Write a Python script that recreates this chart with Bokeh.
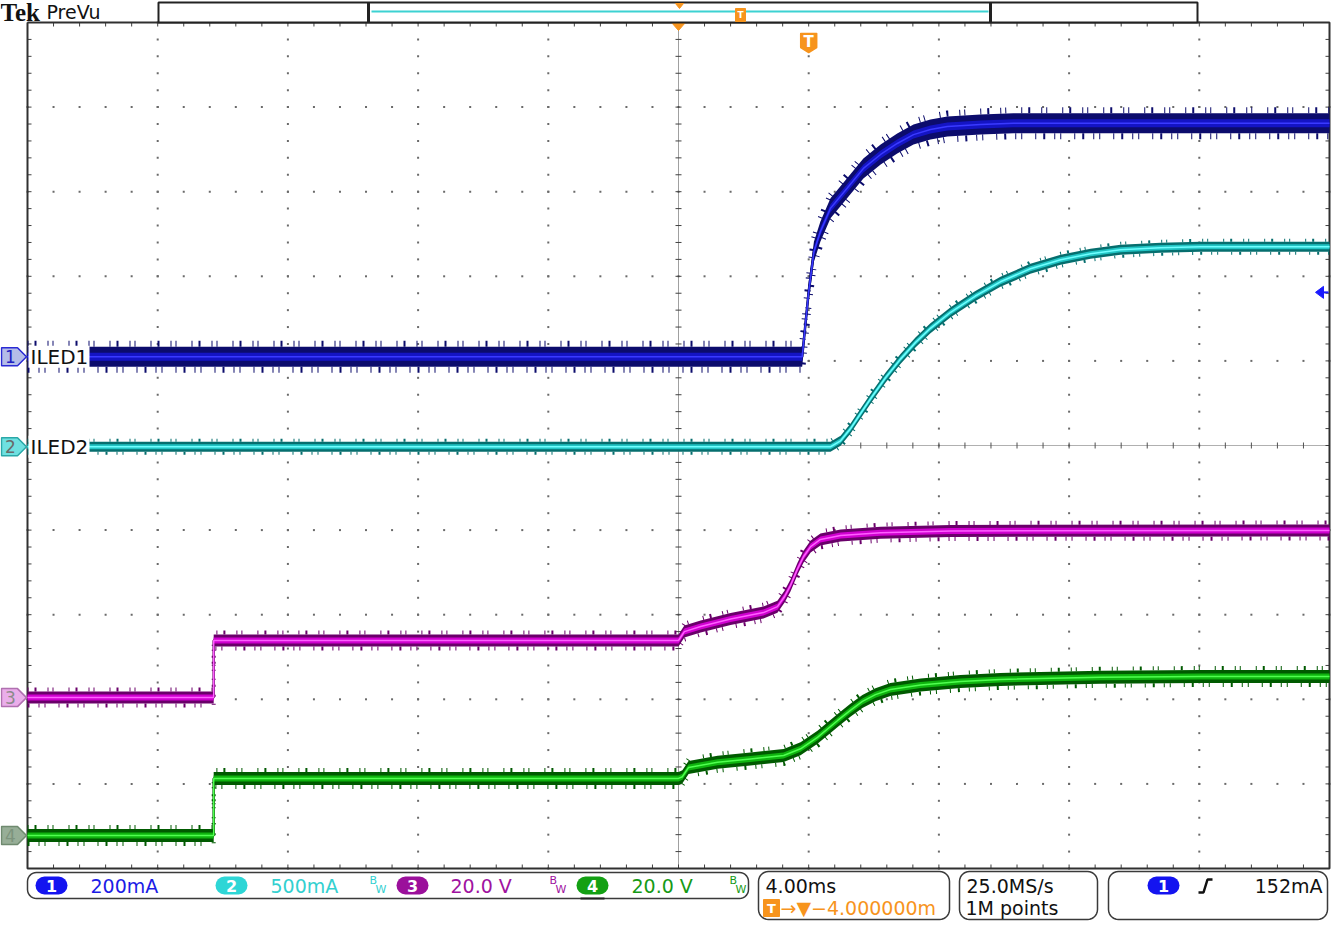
import numpy as np
from bokeh.plotting import figure
from bokeh.models import Range1d, Label
from bokeh.embed import file_html
from bokeh.resources import INLINE

# ---------------- data ----------------
ch1_t_ms = [-24.0, -0.20, 0.00, 0.16, 0.36, 0.67, 1.18, 1.68, 2.21, 2.72, 3.22, 3.74, 4.26, 5.28, 6.29, 16.0]
ch1_ma = [0, 0, 154, 248, 296, 351, 398, 445, 478, 504, 525, 537, 544, 549, 552, 552]

ch2_t_ms = [-24.0, 0.67, 0.98, 1.28, 1.59, 1.90, 2.36, 2.82, 3.28, 3.74, 4.36, 5.12, 5.89, 6.81, 7.74, 8.66, 9.58, 10.81, 12.04, 16.0]
ch2_ma = [0, 0, 35, 106, 195, 284, 408, 518, 616, 700, 795, 891, 975, 1052, 1105, 1141, 1164, 1176, 1182, 1182]

ch3_t_ms = [-24.0, -18.28, -18.28, -4.0, -3.82, -3.32, -2.40, -1.39, -0.96, -0.74, -0.56, -0.34, -0.16, 0.06, 0.36, 0.98, 2.21, 4.36, 16.0]
ch3_v = [0, 0, 13.5, 13.5, 15.6, 16.8, 18.6, 20.1, 21.5, 23.9, 26.5, 30.5, 33.3, 35.7, 37.4, 38.3, 39.0, 39.4, 39.5]

ch4_t_ms = [-24.0, -18.28, -18.28, -4.0, -3.88, -3.69, -2.80, -1.79, -0.77, -0.25, 0.27, 0.89, 1.28, 1.65, 2.05, 2.51, 3.44, 4.66, 5.89, 8.97, 12.04, 16.0]
ch4_v = [0, 0, 13.5, 13.5, 13.9, 16.1, 17.3, 18.1, 18.9, 20.5, 23.2, 27.2, 29.6, 31.7, 33.3, 34.5, 35.6, 36.4, 36.9, 37.4, 37.6, 37.6]

ch_names = ["1", "2", "3", "4"]
ch_scale_per_div = [200.0, 500.0, 20.0, 20.0]      # mA/div, mA/div, V/div, V/div
ch_offset_div = [1.05, -0.015, -2.98, -4.61]       # ground marker positions (divisions)
ch_labels = ["ILED1", "ILED2", "", ""]
scale_labels = ["200mA", "500mA", "20.0 V", "20.0 V"]
timebase_label = "4.00ms"
delay_label = "\u2192\u25bc\u22124.000000m"
rate_labels = ["25.0MS/s", "1M points"]
trigger_channel = 0
trigger_level_ma = 152.0
trigger_label = "152mA"
trigger_time_ms = 0.0
expansion_time_ms = -4.0

# ---------------- screen geometry ----------------
W, H = 1333, 938
REF_W, REF_H = 1333, 938
GX0, GX1, GY0, GY1 = 27, 1329, 22, 868
N_HDIV, N_VDIV = 10, 10
MS_PER_DIV = 4.0
T_LEFT = -24.0
PPM = (GX1 - GX0) / (N_HDIV * MS_PER_DIV)
PPD = (GY1 - GY0) / N_VDIV


def X(px):
    return T_LEFT + (px - GX0) / PPM


def Y(py):
    return N_VDIV / 2 - (py - GY0) / PPD


def DX(px):
    return px / PPM


def DY(py):
    return py / PPD


T_RIGHT = T_LEFT + N_HDIV * MS_PER_DIV

p = figure(width=W, height=H, x_range=Range1d(X(0), X(REF_W)), y_range=Range1d(Y(REF_H), Y(0)),
           x_axis_type=None, y_axis_type=None, toolbar_location=None, output_backend="svg",
           min_border=0, outline_line_color=None, background_fill_color="white",
           border_fill_color="white")

FONT = "DejaVu Sans"
ORANGE = "#f7941d"


def label(px, py, text, size=19, color="#111111", align="left", font=FONT, style="normal"):
    p.add_layout(Label(x=X(px), y=Y(py), text=text, text_font=font, text_font_size=f"{size}px",
                       text_color=color, text_align=align, text_baseline="middle",
                       text_font_style=style))


# ---------------- graticule ----------------
minor_d = np.round(np.arange(-5, 5.0001, 0.2), 3)
minor_t = np.round(np.arange(T_LEFT, T_RIGHT + 0.001, MS_PER_DIV / 5), 3)
maj_t = [T_LEFT + k * MS_PER_DIV for k in range(1, N_HDIV)]
maj_d = [k for k in range(-4, 5)]

dx, dy = [], []
for t in maj_t:
    if abs(t - expansion_time_ms) < 1e-6:
        continue
    for d in minor_d:
        dx.append(t); dy.append(d)
for d in maj_d:
    if d == 0:
        continue
    for t in minor_t:
        dx.append(t); dy.append(d)
p.scatter(dx, dy, marker="square", size=2, fill_color="#6a6a6a", line_color=None)

# center cross (dotted, with ticks)
p.line([expansion_time_ms, expansion_time_ms], [-5, 5], line_color="#404040", line_width=1, line_dash="1 1")
p.line([T_LEFT, T_RIGHT], [0, 0], line_color="#606060", line_width=1, line_dash="1 1")
p.segment(x0=[expansion_time_ms - DX(3)] * len(minor_d), y0=minor_d,
          x1=[expansion_time_ms + DX(3)] * len(minor_d), y1=minor_d, line_color="#404040", line_width=1)
p.segment(x0=minor_t, y0=[-DY(3)] * len(minor_t), x1=minor_t, y1=[DY(3)] * len(minor_t),
          line_color="#505050", line_width=1)

# border ticks
p.segment(x0=minor_t, y0=[5] * len(minor_t), x1=minor_t, y1=[5 - DY(4)] * len(minor_t), line_color="#404040")
p.segment(x0=minor_t, y0=[-5] * len(minor_t), x1=minor_t, y1=[-5 + DY(4)] * len(minor_t), line_color="#404040")
p.segment(x0=[T_LEFT] * len(minor_d), y0=minor_d, x1=[T_LEFT + DX(4)] * len(minor_d), y1=minor_d, line_color="#404040")
p.segment(x0=[T_RIGHT] * len(minor_d), y0=minor_d, x1=[T_RIGHT - DX(4)] * len(minor_d), y1=minor_d, line_color="#404040")
# border
p.line([T_LEFT, T_RIGHT, T_RIGHT, T_LEFT, T_LEFT], [5, 5, -5, -5, 5], line_color="#303030", line_width=2)


# ---------------- waveforms ----------------
def draw_trace(t, vals, scale, off, outer, inner, core, h_out, h_in, spike):
    t = np.asarray(t, dtype=float)
    d = off + np.asarray(vals, dtype=float) / scale
    p.varea(x=t, y1=d - DY(h_out), y2=d + DY(h_out), fill_color=outer)
    p.line(t, d + DY(h_out + spike / 2), line_color=outer, line_width=spike, line_dash="1 6 2 11 1 4 1 15")
    p.line(t, d - DY(h_out + spike / 2), line_color=outer, line_width=spike, line_dash="2 9 1 5 1 13 1 7")
    p.line(t, d, line_color=outer, line_width=2.5)
    p.varea(x=t, y1=d - DY(h_in), y2=d + DY(h_in), fill_color=inner)
    p.line(t, d, line_color=core, line_width=1.5)


draw_trace(ch4_t_ms, ch4_v, ch_scale_per_div[3], ch_offset_div[3], "#005a00", "#0fb40f", "#50ff50", 6.5, 3.0, 4)
draw_trace(ch3_t_ms, ch3_v, ch_scale_per_div[2], ch_offset_div[2], "#6a006a", "#d000d0", "#ff60ff", 6.0, 3.0, 4)
draw_trace(ch2_t_ms, ch2_ma, ch_scale_per_div[1], ch_offset_div[1], "#066e6e", "#22c4c4", "#70ffff", 5.0, 2.5, 3)
draw_trace(ch1_t_ms, ch1_ma, ch_scale_per_div[0], ch_offset_div[0], "#0c0c6c", "#1414c4", "#3a3aff", 10.0, 4.0, 6)

# channel name labels with white background
for i, name in enumerate(ch_labels):
    if not name:
        continue
    d = ch_offset_div[i]
    p.quad(left=X(28), right=X(89), bottom=d - DY(11), top=d + DY(11), fill_color="white", line_color=None)
    p.add_layout(Label(x=X(30), y=d, text=name, text_font=FONT, text_font_size="20px",
                       text_color="#111111", text_baseline="middle"))

# ground markers on the left
mk_fill = ["#b4bce8", "#6fe0e0", "#eaaeea", "#97ae97"]
mk_line = ["#2a2ad4", "#2aa8a8", "#b070b0", "#6f8a6f"]
mk_text = ["#2020c0", "#6a6a6a", "#8a8a8a", "#7d947d"]
for i in range(4):
    d = ch_offset_div[i]
    xs = [X(1), X(17), X(26), X(17), X(1)]
    ys = [d + DY(9), d + DY(9), d, d - DY(9), d - DY(9)]
    p.patch(xs, ys, fill_color=mk_fill[i], line_color=mk_line[i], line_width=1.5)
    p.add_layout(Label(x=X(10), y=d, text=ch_names[i], text_font=FONT, text_font_size="17px",
                       text_color=mk_text[i], text_align="center", text_baseline="middle"))

# trigger level arrow at right edge
tl = ch_offset_div[trigger_channel] + trigger_level_ma / ch_scale_per_div[trigger_channel]
p.patch([X(1315), X(1323), X(1323)], [tl, tl + DY(6), tl - DY(6)], fill_color="#1a1aff", line_color="#1a1aff")
p.line([X(1320), X(1328)], [tl, tl], line_color="#1a1aff", line_width=2)

# expansion point and trigger markers on top of graticule
p.patch([expansion_time_ms - DX(7), expansion_time_ms + DX(7), expansion_time_ms],
        [5, 5, 5 - DY(8)], fill_color=ORANGE, line_color=ORANGE)
tx = trigger_time_ms
p.patch([tx - DX(8), tx + DX(8), tx + DX(8), tx, tx - DX(8)],
        [Y(33), Y(33), Y(47), Y(52), Y(47)], fill_color=ORANGE, line_color=ORANGE, line_width=1.5,
        line_join="round")
p.add_layout(Label(x=tx, y=Y(41), text="T", text_font=FONT, text_font_size="15px", text_font_style="bold",
                   text_color="white", text_align="center", text_baseline="middle"))

# ---------------- header ----------------
label(0, 12, "Tek", size=25, font="Liberation Serif", style="bold", color="#111111")
label(46, 11, "PreVu", size=19, color="#111111")
p.quad(left=X(158), right=X(1197), top=Y(2), bottom=Y(22), fill_color="white", line_color="#222222", line_width=2)
p.segment(x0=[X(368), X(990)], y0=[Y(2), Y(2)], x1=[X(368), X(990)], y1=[Y(22), Y(22)],
          line_color="#222222", line_width=3)
p.line([X(371), X(988)], [Y(11), Y(11)], line_color="#3cd2d2", line_width=2)
p.patch([X(675), X(683), X(679)], [Y(3), Y(3), Y(8)], fill_color=ORANGE, line_color=ORANGE)
p.quad(left=X(735), right=X(745), top=Y(8), bottom=Y(21), fill_color=ORANGE, line_color=ORANGE)
label(740, 14.5, "T", size=9, color="white", align="center", style="bold")


# ---------------- status bar ----------------
def rbox(x0, y0, x1, y1, r, color="#3a3a3a", w=1.5):
    xs, ys = [], []
    for cx, cy, a0 in [(x1 - r, y0 + r, -90), (x1 - r, y1 - r, 0), (x0 + r, y1 - r, 90), (x0 + r, y0 + r, 180)]:
        for a in np.linspace(a0, a0 + 90, 8):
            xs.append(X(cx + r * np.cos(np.radians(a))))
            ys.append(Y(cy + r * np.sin(np.radians(a))))
    xs.append(xs[0]); ys.append(ys[0])
    p.line(xs, ys, line_color=color, line_width=w)


def pill(cx, cy, color, text):
    p.segment(x0=[X(cx - 7)], y0=[Y(cy)], x1=[X(cx + 7)], y1=[Y(cy)], line_color=color, line_width=18,
              line_cap="round")
    label(cx, cy, text, size=16, color="white", align="center", style="bold")


rbox(27, 872, 748, 898, 9)
rbox(758, 871, 949, 919, 10)
rbox(959, 871, 1097, 919, 10)
rbox(1108, 871, 1327, 919, 10)

pill_cols = ["#1414f0", "#2ed6d6", "#9b109b", "#14a014"]
txt_cols = ["#1c1ce6", "#33d0d0", "#a012a0", "#169a16"]
pill_x = [51, 231, 412, 592]
text_x = [90, 270, 450, 631]
bw_x = [None, 373, 553, 733]
for i in range(4):
    pill(pill_x[i], 885, pill_cols[i], ch_names[i])
    label(text_x[i], 885, scale_labels[i], size=19, color=txt_cols[i])
    if bw_x[i] is not None:
        label(bw_x[i] - 4, 880, "B", size=11, color=txt_cols[i])
        label(bw_x[i] + 2, 889, "W", size=11, color=txt_cols[i])
p.line([X(580), X(604)], [Y(898), Y(898)], line_color="#222222", line_width=2)

label(765, 885, timebase_label, size=19, color="#111111")
p.quad(left=X(763), right=X(779), top=Y(899), bottom=Y(916), fill_color=ORANGE, line_color=ORANGE)
label(771, 907.5, "T", size=13, color="white", align="center", style="bold")
label(780, 907, delay_label, size=19, color=ORANGE)

label(966, 885, rate_labels[0], size=19, color="#111111")
label(965, 907, rate_labels[1], size=19, color="#111111")

pill(1163, 885, "#1414f0", ch_names[trigger_channel])
p.line([X(1198), X(1203), X(1207), X(1212)], [Y(892), Y(892), Y(879), Y(879)], line_color="#111111",
       line_width=2.5)
label(1322, 885, trigger_label, size=19, color="#111111", align="right")

open("out.html", "w").write(file_html(p, INLINE))
